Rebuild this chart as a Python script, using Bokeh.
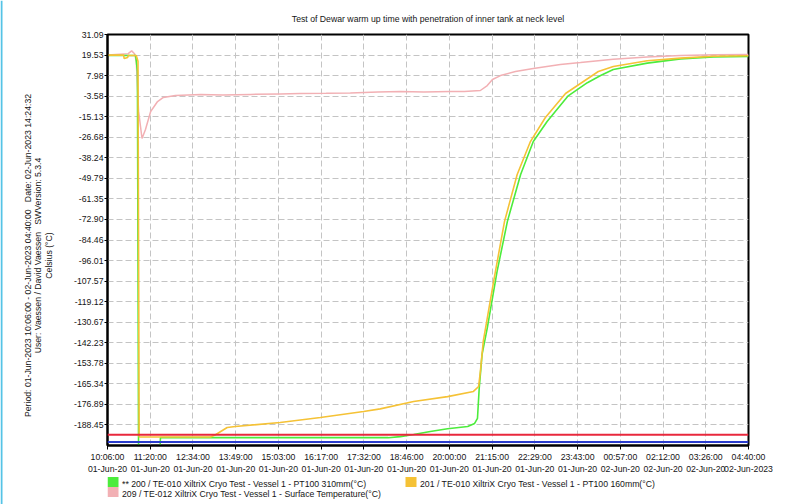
import math
import pandas as pd
from bokeh.plotting import figure
from bokeh.layouts import row, column
from bokeh.models import (Range1d, FixedTicker, NumeralTickFormatter, LinearAxis, Span)
from bokeh.core.properties import value
from bokeh.embed import file_html
from bokeh.resources import INLINE

# ---------------- data ----------------
title_text = "Test of Dewar warm up time with penetration of inner tank at neck level"
ylabel_lines = [
    "Period: 01-Jun-2023 10:06:00 - 02-Jun-2023 04:40:00 \u00a0 Date: 02-Jun-2023 14:24:32",
    "User: Vaessen / David Vaessen \u00a0 SWVersion: 5.3.4",
    "Celsius (\u00b0C)",
]
x_start = "2023-06-01 10:06:00"
x_end = "2023-06-02 04:40:00"
x_tick_times = ["10:06:00", "11:20:00", "12:34:00", "13:49:00", "15:03:00", "16:17:00",
                "17:32:00", "18:46:00", "20:00:00", "21:15:00", "22:29:00", "23:43:00",
                "00:57:00", "02:12:00", "03:26:00", "04:40:00"]
x_tick_dates = ["01-Jun-20"] * 12 + ["02-Jun-20"] * 3 + ["02-Jun-2023"]
y_min = -200.0
y_ticks = [31.09, 19.53, 7.98, -3.58, -15.13, -26.68, -38.24, -49.79, -61.35, -72.90,
           -84.46, -96.01, -107.57, -119.12, -130.67, -142.23, -153.78, -165.34,
           -176.89, -188.45]

limit_red = -194.0
limit_blue = -198.0

s200_label = "** 200 / TE-010 XiltriX Cryo Test - Vessel 1 - PT100 310mm(\u00b0C)"
s201_label = "201 / TE-010 XiltriX Cryo Test - Vessel 1 - PT100 160mm(\u00b0C)"
s209_label = "209 / TE-012 XiltriX Cryo Test - Vessel 1 - Surface Temperature(\u00b0C)"

s200_time = ["2023-06-01 10:06", "2023-06-01 10:55", "2023-06-01 10:58", "2023-06-01 11:00",
             "2023-06-01 11:37", "2023-06-01 11:38", "2023-06-01 18:14", "2023-06-01 18:35",
             "2023-06-01 18:58", "2023-06-01 19:27", "2023-06-01 19:57", "2023-06-01 20:32",
             "2023-06-01 20:44", "2023-06-01 20:49", "2023-06-01 20:52", "2023-06-01 20:57",
             "2023-06-01 21:06", "2023-06-01 21:12", "2023-06-01 21:23", "2023-06-01 21:41",
             "2023-06-01 22:04", "2023-06-01 22:26", "2023-06-01 22:50", "2023-06-01 23:26",
             "2023-06-02 00:00", "2023-06-02 00:23", "2023-06-02 00:45", "2023-06-02 01:44",
             "2023-06-02 02:42", "2023-06-02 03:39", "2023-06-02 04:40"]
s200_temp = [19.3, 19.3, 10.3, -205.0,
             -205.0, -195.6, -195.6, -195.0,
             -193.8, -192.1, -190.6, -189.3,
             -187.6, -184.7, -167.8, -148.8,
             -134.0, -122.8, -102.2, -74.0,
             -47.6, -29.1, -17.8, -3.6,
             4.0, 8.0, 11.4, 15.0,
             17.4, 18.5, 18.7]

s201_time = ["2023-06-01 10:06", "2023-06-01 10:34", "2023-06-01 10:35", "2023-06-01 10:41",
             "2023-06-01 10:42", "2023-06-01 10:56", "2023-06-01 10:59", "2023-06-01 11:01",
             "2023-06-01 13:05", "2023-06-01 13:13", "2023-06-01 13:34", "2023-06-01 13:48",
             "2023-06-01 15:06", "2023-06-01 16:16", "2023-06-01 17:31", "2023-06-01 18:00",
             "2023-06-01 18:58", "2023-06-01 19:57", "2023-06-01 20:42", "2023-06-01 20:51",
             "2023-06-01 20:54", "2023-06-01 20:59", "2023-06-01 21:05", "2023-06-01 21:09",
             "2023-06-01 21:17", "2023-06-01 21:36", "2023-06-01 21:58", "2023-06-01 22:21",
             "2023-06-01 22:47", "2023-06-01 23:22", "2023-06-02 00:19", "2023-06-02 00:45",
             "2023-06-02 01:44", "2023-06-02 02:42", "2023-06-02 03:39", "2023-06-02 04:40"]
s201_temp = [19.5, 19.5, 17.6, 18.2,
             19.3, 19.3, 16.0, -195.2,
             -195.2, -194.1, -189.9, -189.3,
             -187.1, -184.3, -180.9, -179.4,
             -175.3, -172.5, -169.6, -166.8,
             -158.4, -141.5, -130.3, -122.8,
             -107.8, -74.0, -47.6, -29.1,
             -15.6, -2.1, 10.3, 13.1,
             16.3, 17.8, 18.9, 19.1]

s209_time = ["2023-06-01 10:06", "2023-06-01 10:42", "2023-06-01 10:48", "2023-06-01 10:53",
             "2023-06-01 10:56", "2023-06-01 11:00", "2023-06-01 11:06", "2023-06-01 11:12",
             "2023-06-01 11:21", "2023-06-01 11:33", "2023-06-01 11:43", "2023-06-01 12:04",
             "2023-06-01 12:48", "2023-06-01 13:26", "2023-06-01 14:15", "2023-06-01 15:06",
             "2023-06-01 15:41", "2023-06-01 16:26", "2023-06-01 17:08", "2023-06-01 17:56",
             "2023-06-01 18:35", "2023-06-01 19:16", "2023-06-01 20:02", "2023-06-01 20:26",
             "2023-06-01 20:54", "2023-06-01 21:06", "2023-06-01 21:15", "2023-06-01 21:29",
             "2023-06-01 21:55", "2023-06-01 22:26", "2023-06-01 23:13", "2023-06-01 23:48",
             "2023-06-02 00:45", "2023-06-02 01:44", "2023-06-02 02:42", "2023-06-02 03:41",
             "2023-06-02 04:40"]
s209_temp = [19.5, 20.3, 21.9, 20.3,
             16.0, -12.0, -27.4, -22.3,
             -12.2, -6.6, -4.3, -3.2,
             -2.6, -2.9, -2.6, -2.3,
             -2.1, -2.0, -1.8, -1.3,
             -1.0, -1.2, -1.0, -0.9,
             -0.4, 2.4, 5.8, 8.0,
             10.3, 12.0, 14.2, 15.3,
             17.2, 18.5, 19.3, 19.7,
             19.8]

# ---------------- styles ----------------
c200 = "#4cec3c"
c201 = "#f5c236"
c209 = "#f2b0b4"
c_red = "#e8283c"
c_blue = "#2a3ccc"
c_edge = "#55c3e6"
TXT = "#151515"
FONT = "Liberation Sans"
FS = "8.7px"

W, H = 788, 504
LEFT_W = 60          # strip holding the rotated axis description
FRAME_L, FRAME_T, FRAME_W, FRAME_H = 107, 33, 641, 411
BOTTOM = 29
MAIN_H = FRAME_T + FRAME_H + BOTTOM
LEG_H = H - MAIN_H - 2

t0 = pd.Timestamp(x_start)
t1 = pd.Timestamp(x_end)
span_s = int((t1 - t0).total_seconds())


def secs(times):
    return [(pd.Timestamp(t) - t0).total_seconds() for t in times]


n_ticks = len(x_tick_times)
x_ticks = [int(round(i * span_s / (n_ticks - 1))) for i in range(n_ticks)]

# ---------------- main chart ----------------
p = figure(frame_width=FRAME_W, frame_height=FRAME_H,
           min_border_left=FRAME_L - LEFT_W, min_border_right=W - FRAME_L - FRAME_W,
           min_border_top=FRAME_T, min_border_bottom=BOTTOM,
           x_range=Range1d(0, span_s), y_range=Range1d(y_min, y_ticks[0]),
           output_backend="svg", toolbar_location=None, title=title_text)
p.background_fill_color = "white"
p.border_fill_color = "white"
p.outline_line_color = "black"
p.outline_line_width = 2

p.title.align = "center"
p.title.text_font = FONT
p.title.text_font_size = FS
p.title.text_font_style = "normal"
p.title.text_color = TXT
p.title.standoff = 22

xa = p.xaxis[0]
xa.ticker = FixedTicker(ticks=x_ticks)
xa.major_label_overrides = {t: lab for t, lab in zip(x_ticks, x_tick_times)}
xa.axis_line_color = "black"
xa.axis_line_width = 2
xa.major_tick_line_color = "black"
xa.major_tick_out = 4
xa.major_tick_in = 0
xa.minor_tick_line_color = None
xa.major_label_standoff = 2
xa.major_label_text_font = FONT
xa.major_label_text_font_size = FS
xa.major_label_text_color = TXT

da = LinearAxis(ticker=FixedTicker(ticks=x_ticks),
                major_label_overrides={t: lab for t, lab in zip(x_ticks, x_tick_dates)},
                axis_line_color=None, major_tick_line_color=None, minor_tick_line_color=None,
                major_tick_out=0, major_tick_in=0, major_label_standoff=-1,
                major_label_text_font=FONT, major_label_text_font_size=FS,
                major_label_text_color=TXT)
p.add_layout(da, "below")

ya = p.yaxis[0]
ya.ticker = FixedTicker(ticks=y_ticks)
ya.formatter = NumeralTickFormatter(format="0.00")
ya.axis_line_color = "black"
ya.axis_line_width = 2
ya.major_tick_line_color = "black"
ya.major_tick_out = 3
ya.major_tick_in = 0
ya.minor_tick_line_color = None
ya.major_label_standoff = 1
ya.major_label_text_font = FONT
ya.major_label_text_font_size = FS
ya.major_label_text_color = TXT

p.grid.grid_line_color = "#c4c4c4"
p.grid.grid_line_dash = "6 3"
p.grid.grid_line_width = 1

p.add_layout(Span(location=limit_red, dimension="width", line_color=c_red, line_width=2))
p.add_layout(Span(location=limit_blue, dimension="width", line_color=c_blue, line_width=2))

p.line(secs(s209_time), s209_temp, line_color=c209, line_width=1.5)
p.line(secs(s200_time), s200_temp, line_color=c200, line_width=1.6)
p.line(secs(s201_time), s201_temp, line_color=c201, line_width=1.6)


def strip(width, height, xr, yr):
    f = figure(width=width, height=height, x_range=xr, y_range=yr,
               x_axis_location=None, y_axis_location=None,
               output_backend="svg", toolbar_location=None, min_border=0)
    f.grid.visible = False
    f.outline_line_color = None
    f.background_fill_color = "white"
    f.border_fill_color = "white"
    return f


# ---------------- rotated axis description (left strip) ----------------
lf = strip(LEFT_W, H, Range1d(0, LEFT_W), Range1d(0, H))
lf.quad(left=[0], right=[2], bottom=[0], top=[H], fill_color=c_edge, line_color=None)
desc_x = [27.3, 37.8, 48.6]           # baselines, px from left
desc_cy = 255                         # centre, px from top
lf.text(x=desc_x, y=[H - desc_cy] * 3, text=ylabel_lines, angle=math.pi / 2,
        text_align="center", text_baseline="alphabetic",
        text_font=value(FONT), text_font_size=FS, text_color=TXT)

# ---------------- legend strip (its frame lines up with the chart frame) ----------------
lg = strip(W - LEFT_W, LEG_H, Range1d(FRAME_L, FRAME_L + FRAME_W), Range1d(0, LEG_H))
sw_x = [FRAME_L, 405, FRAME_L]        # swatch left edges (page px)
sw_top = [0.5, 0.5, 10.5]             # px from top of strip
sw_w, sw_h = 11, 10
lg.quad(left=sw_x, right=[v + sw_w for v in sw_x],
        top=[LEG_H - v for v in sw_top], bottom=[LEG_H - v - sw_h for v in sw_top],
        fill_color=[c200, c201, c209], line_color=None)
lg.text(x=[v + sw_w + 3.5 for v in sw_x], y=[LEG_H - v - 6.6 for v in sw_top],
        text=[s200_label, s201_label, s209_label],
        text_align="left", text_baseline="alphabetic",
        text_font=value(FONT), text_font_size=FS, text_color=TXT)

layout = row(lf, column(p, lg, spacing=0), spacing=0)
open("out.html", "w").write(file_html(layout, INLINE))
